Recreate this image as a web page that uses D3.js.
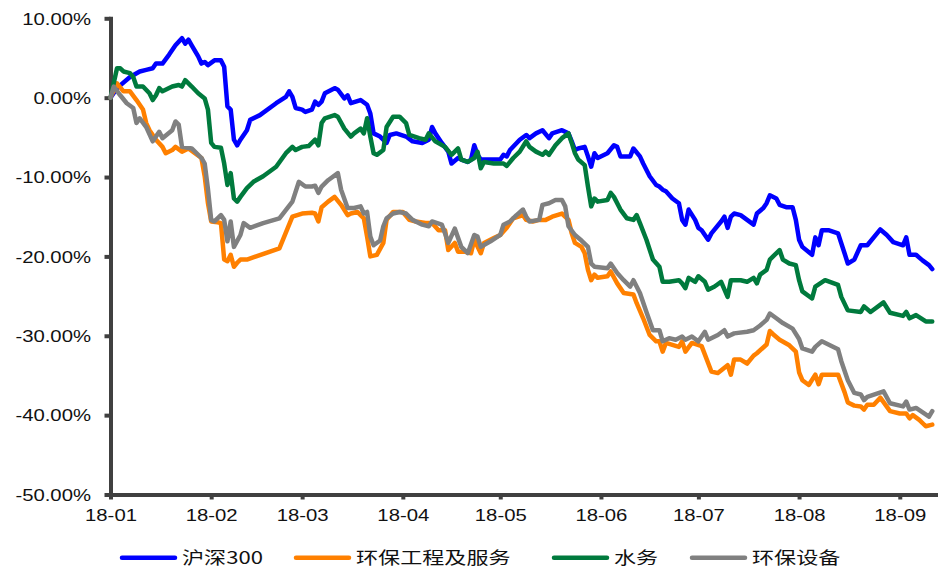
<!DOCTYPE html>
<html><head><meta charset="utf-8">
<script src="https://cdn.jsdelivr.net/npm/d3@7"></script>
<style>body{margin:0;background:#fff;} svg{display:block}</style>
</head><body>
<svg id="c" width="939" height="569"></svg>
<script>
const year = 2018;
const seriesNames = ["沪深300", "环保工程及服务", "水务", "环保设备"];
const seriesColors = ["#0000FF", "#FF8000", "#007A3D", "#808080"];

const hs300Dates = ["01-01","01-03","01-07","01-10","01-12","01-14","01-15","01-17","01-19","01-21","01-23","01-24","01-25","01-26","01-28","01-29","01-30","01-31","02-02","02-04","02-05","02-06","02-07","02-08","02-09","02-10","02-12","02-13","02-16","02-21","02-24","02-25","02-26","02-27","03-01","03-02","03-04","03-05","03-06","03-07","03-08","03-11","03-12","03-14","03-15","03-16","03-19","03-21","03-22","03-23","03-25","03-27","03-28","03-30","04-02","04-04","04-07","04-09","04-10","04-11","04-13","04-15","04-16","04-18","04-19","04-21","04-22","04-23","04-24","04-25","04-29","05-01","05-02","05-03","05-04","05-07","05-09","05-10","05-12","05-14","05-16","05-17","05-20","05-22","05-23","05-24","05-25","05-27","05-28","05-29","05-30","05-31","06-03","06-05","06-06","06-07","06-10","06-11","06-13","06-14","06-16","06-18","06-19","06-20","06-21","06-23","06-25","06-26","06-27","06-28","06-30","07-01","07-02","07-04","07-05","07-08","07-09","07-10","07-11","07-12","07-14","07-16","07-18","07-19","07-21","07-22","07-23","07-25","07-26","07-28","07-30","07-31","08-01","08-02","08-05","08-06","08-07","08-08","08-10","08-13","08-15","08-16","08-18","08-20","08-22","08-26","08-28","08-30","09-02","09-03","09-04","09-06","09-08","09-10","09-11"];
const hs300Values = [0,1.2,2.6,3.3,3.5,3.7,4.3,4.3,5.4,6.6,7.5,6.8,7.3,6.6,5.2,4.3,4.5,4.1,4.7,4.7,3.9,-1.1,-1.5,-5.3,-6.0,-5.3,-4.1,-2.8,-2.2,-0.7,0.1,0.8,0.1,-1.3,-1.5,-1.8,-1.5,-0.5,-0.9,-0.5,0.55,1.2,1.0,-0.1,0.3,-0.7,-0.3,-0.9,-2.0,-4.5,-4.9,-5.7,-4.7,-4.5,-4.9,-5.5,-5.7,-5.3,-3.7,-4.5,-5.7,-6.8,-8.3,-7.6,-7.8,-8.1,-7.8,-6.0,-7.2,-7.8,-7.8,-7.8,-7.2,-7.4,-6.6,-5.3,-4.7,-5.1,-4.5,-4.1,-5.1,-4.5,-4.1,-4.5,-5.5,-6.6,-6.4,-6.2,-7.4,-8.7,-7.0,-7.6,-7.0,-6.0,-6.2,-7.4,-7.4,-6.4,-7.4,-8.3,-9.9,-11.0,-11.2,-11.6,-11.8,-12.7,-13.3,-15.4,-16.0,-14.1,-15.4,-16.4,-16.7,-17.9,-17.1,-15.6,-15.0,-16.4,-15.0,-14.6,-14.8,-15.4,-16.0,-14.6,-13.9,-13.3,-12.3,-12.7,-13.5,-13.8,-13.8,-15.4,-17.9,-18.8,-19.8,-17.6,-18.6,-16.7,-16.7,-17.1,-19.6,-20.9,-20.4,-18.6,-18.6,-16.6,-17.3,-18.2,-18.6,-17.6,-19.8,-19.8,-20.5,-21.1,-21.6];

const envEngDates = ["01-01","01-03","01-05","01-07","01-09","01-11","01-12","01-13","01-15","01-17","01-18","01-20","01-21","01-23","01-25","01-27","01-29","01-30","01-31","02-01","02-03","02-04","02-05","02-06","02-07","02-08","02-09","02-10","02-12","02-22","02-26","03-01","03-04","03-05","03-06","03-07","03-09","03-11","03-13","03-15","03-16","03-18","03-20","03-21","03-22","03-24","03-26","03-27","03-29","04-01","04-03","04-05","04-08","04-10","04-12","04-14","04-15","04-17","04-18","04-20","04-22","04-23","04-25","04-26","04-29","05-01","05-03","05-05","05-08","05-09","05-11","05-13","05-15","05-17","05-20","05-22","05-23","05-24","05-26","05-27","05-28","05-29","05-30","05-31","06-03","06-04","06-06","06-08","06-11","06-12","06-14","06-16","06-18","06-19","06-20","06-21","06-25","06-26","06-27","06-29","07-02","07-05","07-07","07-10","07-11","07-12","07-14","07-16","07-18","07-19","07-22","07-23","07-24","07-26","07-29","07-31","08-01","08-02","08-04","08-06","08-07","08-08","08-10","08-13","08-15","08-16","08-18","08-20","08-21","08-22","08-24","08-26","08-29","09-01","09-03","09-04","09-05","09-07","09-09","09-11"];
const envEngValues = [0,1.8,0.8,0.8,-0.3,-1.5,-3.2,-4.1,-5.3,-6.2,-7.0,-6.6,-6.2,-6.8,-6.4,-7.0,-7.6,-9.9,-13.3,-15.6,-15.7,-15.8,-20.4,-20.6,-19.8,-21.3,-20.8,-20.4,-20.4,-19.0,-15.0,-14.6,-14.5,-14.6,-15.6,-13.8,-13.1,-12.5,-13.5,-14.8,-14.6,-14.4,-15.2,-17.5,-20.0,-19.8,-18.3,-15.4,-14.4,-14.4,-15.4,-15.6,-15.8,-15.8,-16.7,-16.7,-19.2,-18.3,-19.4,-19.4,-19.6,-17.9,-19.6,-18.3,-17.7,-17.3,-16.4,-15.2,-14.8,-15.4,-15.6,-15.4,-15.4,-15.0,-14.6,-15.4,-17.1,-18.3,-18.8,-19.6,-21.7,-23.0,-22.3,-22.7,-22.5,-21.9,-23.4,-24.6,-24.8,-25.9,-27.8,-29.9,-30.7,-30.7,-32.0,-30.9,-31.4,-30.7,-32.0,-30.9,-31.3,-34.5,-34.7,-33.7,-34.9,-33.0,-33.0,-33.5,-32.5,-32.2,-31.1,-29.4,-29.8,-30.5,-31.2,-32.0,-34.6,-35.6,-36.2,-34.9,-36.1,-34.9,-34.9,-34.9,-37.1,-38.4,-38.8,-38.9,-39.3,-38.7,-38.7,-37.8,-39.5,-39.8,-39.8,-40.4,-40.0,-40.6,-41.4,-41.2];

const waterDates = ["01-01","01-03","01-04","01-05","01-07","01-08","01-09","01-11","01-13","01-14","01-15","01-16","01-17","01-20","01-22","01-23","01-24","01-26","01-28","01-30","01-31","02-01","02-02","02-04","02-05","02-06","02-07","02-08","02-09","02-10","02-12","02-14","02-17","02-21","02-24","02-26","02-27","03-01","03-03","03-05","03-06","03-07","03-08","03-11","03-12","03-14","03-16","03-17","03-19","03-20","03-21","03-22","03-23","03-24","03-26","03-27","03-29","03-31","04-02","04-03","04-06","04-08","04-09","04-11","04-14","04-16","04-18","04-19","04-21","04-23","04-24","04-25","04-26","04-29","05-02","05-03","05-05","05-07","05-09","05-10","05-12","05-14","05-15","05-16","05-18","05-20","05-22","05-23","05-24","05-25","05-27","05-28","05-29","05-30","05-31","06-03","06-04","06-05","06-07","06-09","06-11","06-12","06-13","06-15","06-17","06-19","06-20","06-22","06-25","06-26","06-27","06-28","06-30","07-01","07-03","07-04","07-06","07-08","07-10","07-11","07-14","07-16","07-18","07-19","07-20","07-22","07-23","07-24","07-26","07-27","07-29","07-31","08-01","08-02","08-05","08-06","08-09","08-13","08-14","08-16","08-20","08-21","08-23","08-27","08-29","09-02","09-03","09-04","09-06","09-09","09-11"];
const waterValues = [0,3.7,3.7,3.3,3.1,2.6,1.4,1.4,0.55,-0.3,0.3,1.2,0.8,1.4,1.6,1.4,2.2,1.4,0.55,-0.1,-1.5,-5.7,-6.2,-6.3,-8.3,-11.0,-9.5,-12.7,-13.1,-12.5,-11.4,-10.6,-9.9,-8.7,-7.0,-6.2,-6.6,-6.2,-6.1,-5.3,-6.0,-3.2,-2.6,-2.2,-2.4,-3.9,-4.9,-4.5,-3.9,-4.5,-2.6,-4.9,-7.0,-7.2,-6.6,-3.7,-2.4,-2.4,-3.2,-4.7,-5.1,-5.3,-4.5,-5.5,-6.2,-7.2,-6.4,-7.8,-8.1,-7.6,-6.8,-8.9,-8.1,-8.3,-8.3,-8.6,-7.6,-6.8,-5.5,-6.2,-6.8,-7.2,-6.8,-7.2,-6.0,-5.1,-4.5,-5.7,-7.0,-7.8,-8.5,-11.2,-13.7,-12.7,-13.1,-12.9,-12.0,-12.5,-14.1,-15.2,-15.4,-14.8,-15.8,-17.9,-20.4,-21.3,-23.2,-23.2,-23.0,-23.4,-24.0,-22.7,-23.2,-22.5,-23.2,-24.2,-23.8,-23.2,-25.1,-23.0,-23.0,-23.2,-22.7,-23.4,-22.3,-21.7,-20.4,-20.0,-19.2,-20.4,-20.9,-21.1,-23.0,-24.4,-25.3,-23.8,-23.0,-23.6,-25.1,-26.8,-27.0,-26.3,-27.0,-25.8,-27.1,-27.5,-27.0,-27.8,-27.4,-28.2,-28.2];

const envEquipDates = ["01-01","01-02","01-04","01-06","01-08","01-09","01-10","01-12","01-14","01-16","01-17","01-20","01-21","01-22","01-23","01-26","01-29","01-30","01-31","02-01","02-02","02-04","02-05","02-06","02-07","02-08","02-10","02-11","02-13","02-17","02-22","02-26","02-28","03-02","03-04","03-05","03-06","03-07","03-09","03-12","03-13","03-15","03-17","03-19","03-20","03-21","03-22","03-23","03-25","03-26","03-27","03-29","03-31","04-02","04-04","04-07","04-09","04-10","04-13","04-14","04-15","04-17","04-19","04-21","04-23","04-24","04-25","04-28","05-01","05-02","05-04","05-06","05-08","05-09","05-10","05-13","05-14","05-16","05-18","05-20","05-21","05-22","05-24","05-26","05-28","05-29","05-30","06-03","06-04","06-06","06-08","06-10","06-11","06-13","06-15","06-17","06-19","06-20","06-22","06-24","06-26","06-27","06-29","07-01","07-03","07-04","07-07","07-09","07-10","07-12","07-16","07-18","07-20","07-22","07-23","07-25","07-27","07-30","08-01","08-02","08-05","08-06","08-08","08-13","08-14","08-16","08-18","08-20","08-21","08-22","08-27","08-29","09-02","09-03","09-04","09-06","09-10","09-11"];
const envEquipValues = [0,1.4,0.3,-0.7,-1.3,-3.2,-2.6,-3.7,-5.5,-4.3,-5.1,-4.1,-3.0,-3.4,-6.2,-6.4,-7.6,-8.3,-11.5,-15.4,-15.6,-14.8,-15.4,-18.1,-15.6,-18.8,-17.3,-15.8,-16.4,-15.8,-15.2,-13.1,-10.6,-11.2,-11.2,-11.1,-12.0,-11.2,-10.4,-9.5,-11.6,-13.9,-13.9,-13.7,-14.6,-14.4,-17.5,-18.6,-18.0,-16.2,-15.2,-14.6,-14.4,-14.6,-15.4,-16.0,-16.2,-15.6,-16.0,-17.1,-18.3,-16.5,-18.8,-19.6,-17.3,-17.5,-18.8,-18.1,-17.3,-16.0,-15.6,-14.8,-14.1,-15.0,-15.6,-15.4,-13.5,-13.3,-12.9,-12.9,-13.7,-16.2,-17.3,-18.0,-18.8,-20.9,-21.3,-21.5,-20.9,-22.1,-23.0,-23.8,-23.0,-24.6,-27.0,-29.3,-29.3,-30.7,-30.3,-30.5,-30.1,-30.5,-30.1,-30.7,-29.5,-30.5,-29.9,-29.3,-30.1,-29.7,-29.5,-29.3,-28.7,-28.0,-27.2,-27.8,-28.4,-29.1,-30.4,-31.6,-32.0,-31.4,-30.7,-31.7,-33.2,-35.6,-37.2,-37.4,-38.1,-37.7,-37.0,-38.5,-38.9,-38.3,-39.3,-39.1,-40.2,-39.5];

const yTickValues = [10, 0, -10, -20, -30, -40, -50];
const xTickDates = ["01-01","02-01","03-01","04-01","05-01","06-01","07-01","08-01","09-01"];
const xTickLabels = ["18-01","18-02","18-03","18-04","18-05","18-06","18-07","18-08","18-09"];

const parse = s => d3.timeParse("%Y-%m-%d")(year + "-" + s);
const svg = d3.select("#c");
const axisColor = "#404040";
const stretch = 1.27;

const x = d3.scaleTime()
  .domain([parse("01-01"), parse("09-12")])
  .range([110.5, 935.5]);
const y = d3.scaleLinear().domain([-50, 10]).range([494.5, 18.3]);

// Y axis
const yAxis = svg.append("g").attr("transform", "translate(110.5,0)")
  .call(d3.axisLeft(y).tickValues(yTickValues).tickSize(6).tickSizeOuter(0)
    .tickFormat(d => d.toFixed(2) + "%"));
yAxis.select(".domain").attr("stroke", axisColor).attr("stroke-width", 4);
yAxis.selectAll(".tick line").attr("stroke", axisColor).attr("stroke-width", 4);
yAxis.selectAll(".tick text")
  .attr("x", 0).attr("dy", "0.36em")
  .attr("transform", `translate(-19.5,0) scale(${stretch},1)`)
  .attr("fill", "#111").attr("font-size", 16)
  .attr("font-family", "'Liberation Sans', Arial, sans-serif");

// X axis
const xAxis = svg.append("g").attr("transform", "translate(0,494.5)")
  .call(d3.axisBottom(x).tickValues(xTickDates.map(parse)).tickSize(5).tickSizeOuter(0)
    .tickFormat((d, i) => xTickLabels[i]));
xAxis.select(".domain").attr("stroke", axisColor).attr("stroke-width", 4);
xAxis.selectAll(".tick line").attr("stroke", axisColor).attr("stroke-width", 4);
xAxis.selectAll(".tick text")
  .attr("y", 0).attr("dy", 0)
  .attr("transform", `translate(0,26.5) scale(${stretch},1)`)
  .attr("fill", "#111").attr("font-size", 16)
  .attr("font-family", "'Liberation Sans', Arial, sans-serif");
svg.selectAll(".domain").attr("stroke-linecap", "square");

// Series
const seriesData = [
  [hs300Dates, hs300Values],
  [envEngDates, envEngValues],
  [waterDates, waterValues],
  [envEquipDates, envEquipValues]
];
const line = d3.line().x(d => x(d[0])).y(d => y(d[1]));
seriesData.forEach(([dates, vals], i) => {
  const pts = dates.map((d, j) => [parse(d), vals[j]]);
  svg.append("path").datum(pts)
    .attr("d", line)
    .attr("fill", "none")
    .attr("stroke", seriesColors[i])
    .attr("stroke-width", 4.5)
    .attr("stroke-linejoin", "round")
    .attr("stroke-linecap", "round");
});

// Legend
const legendLineX = [122, 296, 554, 692];
const legendY = 557.7;
const legend = svg.append("g");
seriesNames.forEach((name, i) => {
  legend.append("line")
    .attr("x1", legendLineX[i]).attr("x2", legendLineX[i] + 53)
    .attr("y1", legendY).attr("y2", legendY)
    .attr("stroke", seriesColors[i]).attr("stroke-width", 4.5)
    .attr("stroke-linecap", "round");
  legend.append("text")
    .attr("transform", `translate(${legendLineX[i] + 60},${legendY + 6.3}) scale(1.3,1)`)
    .attr("font-size", 17)
    .attr("font-family", "'Noto Sans CJK SC', sans-serif")
    .attr("fill", "#111")
    .text(name);
});
</script>
</body></html>
